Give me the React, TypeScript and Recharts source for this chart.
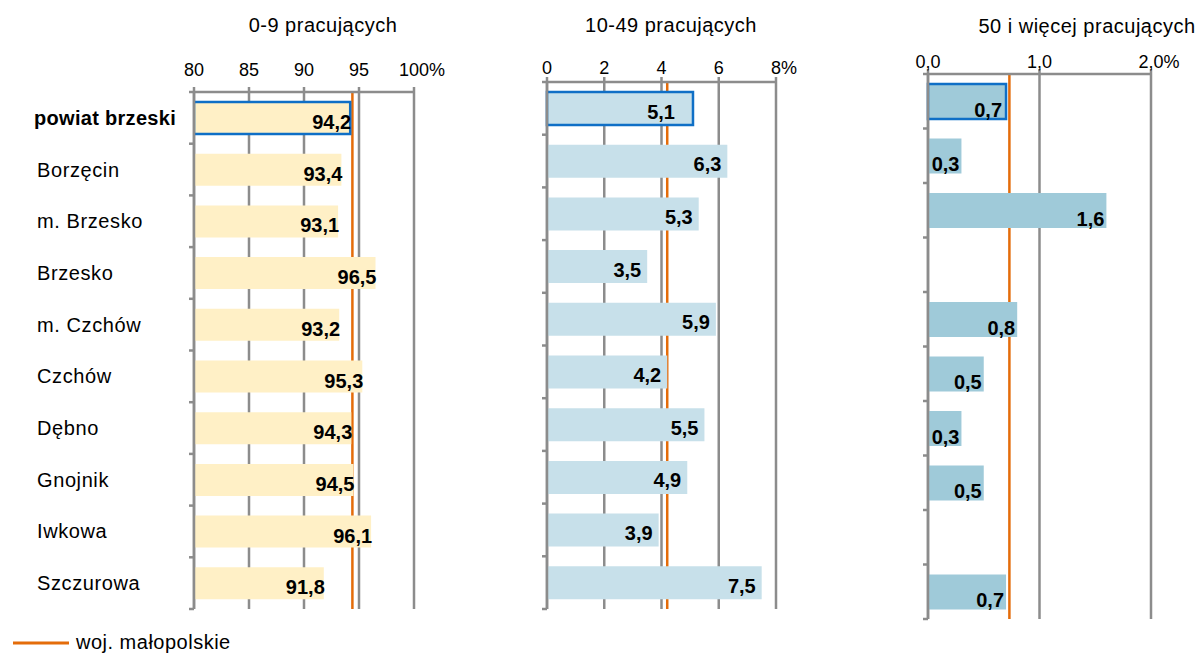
import React from "react";
import {
  BarChart,
  Bar,
  XAxis,
  YAxis,
  CartesianGrid,
  ReferenceLine,
  LabelList,
  Cell,
} from "recharts";

const categories = [
  "powiat brzeski",
  "Borzęcin",
  "m. Brzesko",
  "Brzesko",
  "m. Czchów",
  "Czchów",
  "Dębno",
  "Gnojnik",
  "Iwkowa",
  "Szczurowa",
];
const small = [94.2, 93.4, 93.1, 96.5, 93.2, 95.3, 94.3, 94.5, 96.1, 91.8];
const medium = [5.1, 6.3, 5.3, 3.5, 5.9, 4.2, 5.5, 4.9, 3.9, 7.5];
const large = [0.7, 0.3, 1.6, null, 0.8, 0.5, 0.3, 0.5, null, 0.7];
const wojSmall = 94.4;
const wojMedium = 4.2;
const wojLarge = 0.73;
const smallTicks = [80, 85, 90, 95, 100];
const mediumTicks = [0, 2, 4, 6, 8];
const largeTicks = [0, 1, 2];
const titles = ["0-9 pracujących", "10-49 pracujących", "50 i więcej pracujących"];
const legendLabel = "woj. małopolskie";

const data = categories.map((name, i) => ({
  name,
  small: small[i],
  medium: medium[i],
  large: large[i],
}));

const FONT = '"Liberation Sans", Arial, sans-serif';
const GRID = "#8c8c8c";
const ORANGE = "#e46c0a";
const HIGHLIGHT = "#0f6fc6";

const charW: Record<string, number> = { ",": 0.278, ".": 0.278, "%": 0.889 };
const textWidth = (s: string, size: number) =>
  s.split("").reduce((w, c) => w + (charW[c] ?? 0.556) * size, 0);

const fmt = (v: number, digits: number) => v.toFixed(digits).replace(".", ",");

// x tick: number centred on the tick, "%" tacked on the last one
const makeXTick = (labelY: number, digits: number, lastValue: number) => (props: any) => {
  const { x, payload } = props;
  const txt = fmt(payload.value, digits);
  const w = textWidth(txt, 18);
  return (
    <text
      x={x - w / 2}
      y={labelY}
      textAnchor="start"
      dominantBaseline="central"
      fontSize={18}
      fontFamily={FONT}
      fill="#000"
    >
      {txt}
      {payload.value === lastValue ? "%" : ""}
    </text>
  );
};

// category ticks sit on band boundaries, excel style
const makeYTick = (plotLeft: number, top: number, bottom: number, showText: boolean) => (props: any) => {
  const { y, payload, index } = props;
  const band = (bottom - top) / categories.length;
  return (
    <g>
      {index === 0 && (
        <line x1={plotLeft - 5} x2={plotLeft} y1={y - band / 2} y2={y - band / 2} stroke={GRID} strokeWidth={2.5} />
      )}
      <line x1={plotLeft - 5} x2={plotLeft} y1={y + band / 2} y2={y + band / 2} stroke={GRID} strokeWidth={2.5} />
      {showText && (
        <text
          x={index === 0 ? 34 : 37}
          y={y}
          dominantBaseline="central"
          fontSize={20}
          letterSpacing={index === 0 ? 0.3 : 0.6}
          fontWeight={index === 0 ? "bold" : "normal"}
          fontFamily={FONT}
          fill="#000"
        >
          {payload.value}
        </text>
      )}
    </g>
  );
};

const makeValueLabel = (inset: number, dy: number, firstInset: number) => (props: any) => {
  const { x, y, width, height, value, index } = props;
  if (value == null) return null;
  return (
    <text
      x={x + width - (index === 0 ? firstInset : inset)}
      y={y + height / 2 + dy}
      textAnchor="end"
      dominantBaseline="central"
      fontSize={20}
      fontWeight="bold"
      fontFamily={FONT}
      fill="#000"
    >
      {fmt(value, 1)}
    </text>
  );
};

const Title = ({ x, y, text }: { x: number; y: number; text: string }) => (
  <div
    style={{
      position: "absolute",
      left: x - 160,
      top: y - 12,
      width: 320,
      textAlign: "center",
      fontFamily: FONT,
      fontSize: 20,
      letterSpacing: 0.5,
      lineHeight: "24px",
      color: "#000",
    }}
  >
    {text}
  </div>
);

export default function App() {
  return (
    <div
      style={{
        position: "absolute",
        left: 0,
        top: 0,
        width: 1200,
        height: 654,
        background: "#fff",
        overflow: "hidden",
      }}
    >
      <Title x={323} y={25} text={titles[0]} />
      <Title x={671} y={25} text={titles[1]} />
      <Title x={1087} y={26} text={titles[2]} />

      {/* 0-9 */}
      <div style={{ position: "absolute", left: 0, top: 0 }}>
        <BarChart
          width={470}
          height={654}
          data={data}
          layout="vertical"
          margin={{ top: 62, right: 56, bottom: 45, left: 0 }}
        >
          <CartesianGrid horizontal={false} stroke={GRID} strokeWidth={2.5} />
          <XAxis
            type="number"
            orientation="top"
            height={30}
            domain={[80, 100]}
            ticks={smallTicks}
            interval={0}
            allowDataOverflow
            axisLine={{ stroke: GRID, strokeWidth: 2.5 }}
            tickLine={{ stroke: GRID, strokeWidth: 2.5 }}
            tickSize={5}
            tick={makeXTick(70, 0, 100)}
          />
          <YAxis
            type="category"
            dataKey="name"
            width={194}
            interval={0}
            axisLine={{ stroke: GRID, strokeWidth: 2.5 }}
            tickLine={false}
            tick={makeYTick(194, 92, 609, true)}
          />
          <ReferenceLine x={wojSmall} stroke={ORANGE} strokeWidth={2.5} zIndex={50} />
          <Bar dataKey="small" fill="#fff0c6" barSize={32} isAnimationActive={false}>
            {data.map((d, i) => (
              <Cell
                key={d.name}
                stroke={i === 0 ? HIGHLIGHT : "none"}
                strokeWidth={i === 0 ? 2.5 : 0}
              />
            ))}
            <LabelList dataKey="small" content={makeValueLabel(-1, 4, -1)} />
          </Bar>
        </BarChart>
      </div>

      {/* 10-49 */}
      <div style={{ position: "absolute", left: 520, top: 0 }}>
        <BarChart
          width={300}
          height={654}
          data={data}
          layout="vertical"
          margin={{ top: 52, right: 44, bottom: 45, left: 7 }}
        >
          <CartesianGrid horizontal={false} stroke={GRID} strokeWidth={2.5} />
          <XAxis
            type="number"
            orientation="top"
            height={30}
            domain={[0, 8]}
            ticks={mediumTicks}
            interval={0}
            axisLine={{ stroke: GRID, strokeWidth: 2.5 }}
            tickLine={{ stroke: GRID, strokeWidth: 2.5 }}
            tickSize={5}
            tick={makeXTick(68, 0, 8)}
          />
          <YAxis
            type="category"
            dataKey="name"
            width={20}
            interval={0}
            axisLine={{ stroke: GRID, strokeWidth: 2.5 }}
            tickLine={false}
            tick={makeYTick(27, 82, 609, false)}
          />
          <ReferenceLine x={wojMedium} stroke={ORANGE} strokeWidth={2.5} zIndex={50} />
          <Bar dataKey="medium" fill="#c7e0ea" barSize={33} isAnimationActive={false}>
            {data.map((d, i) => (
              <Cell
                key={d.name}
                stroke={i === 0 ? HIGHLIGHT : "none"}
                strokeWidth={i === 0 ? 2.5 : 0}
              />
            ))}
            <LabelList dataKey="medium" content={makeValueLabel(6, 3, 18)} />
          </Bar>
        </BarChart>
      </div>

      {/* 50+ */}
      <div style={{ position: "absolute", left: 880, top: 0 }}>
        <BarChart
          width={320}
          height={654}
          data={data}
          layout="vertical"
          margin={{ top: 44, right: 49, bottom: 35, left: 28 }}
        >
          <CartesianGrid horizontal={false} stroke={GRID} strokeWidth={2.5} />
          <XAxis
            type="number"
            orientation="top"
            height={30}
            domain={[0, 2]}
            ticks={largeTicks}
            interval={0}
            axisLine={{ stroke: GRID, strokeWidth: 2.5 }}
            tickLine={{ stroke: GRID, strokeWidth: 2.5 }}
            tickSize={5}
            tick={makeXTick(62, 1, 2)}
          />
          <YAxis
            type="category"
            dataKey="name"
            width={20}
            interval={0}
            axisLine={{ stroke: GRID, strokeWidth: 2.5 }}
            tickLine={false}
            tick={makeYTick(48, 74, 619, false)}
          />
          <ReferenceLine x={wojLarge} stroke={ORANGE} strokeWidth={2.5} zIndex={50} />
          <Bar dataKey="large" fill="#9fcad9" barSize={35} isAnimationActive={false}>
            {data.map((d, i) => (
              <Cell
                key={d.name}
                stroke={i === 0 ? HIGHLIGHT : "none"}
                strokeWidth={i === 0 ? 2.5 : 0}
              />
            ))}
            <LabelList dataKey="large" content={makeValueLabel(2, 8, 4)} />
          </Bar>
        </BarChart>
      </div>

      {/* legend */}
      <svg
        style={{ position: "absolute", left: 0, top: 630 }}
        width={300}
        height={24}
      >
        <line x1={13} x2={69} y1={13} y2={13} stroke={ORANGE} strokeWidth={3} />
        <text
          x={76}
          y={12}
          dominantBaseline="central"
          fontSize={20}
          letterSpacing={0.5}
          fontFamily={FONT}
          fill="#000"
        >
          {legendLabel}
        </text>
      </svg>
    </div>
  );
}
